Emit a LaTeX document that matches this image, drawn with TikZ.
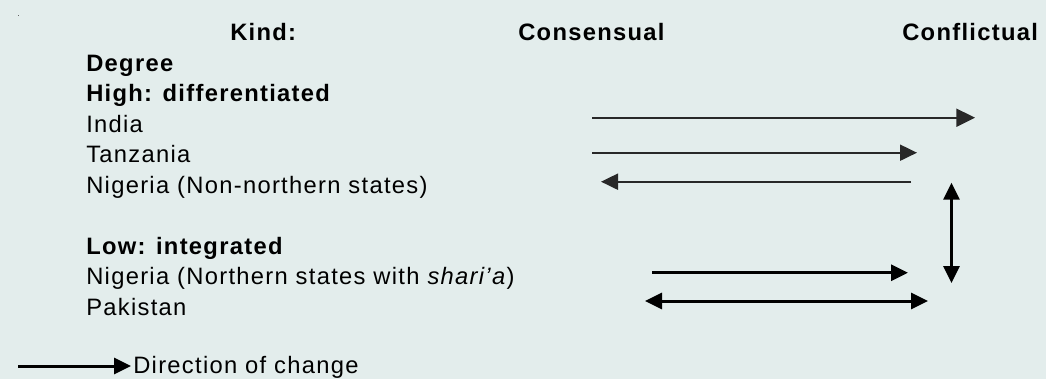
\documentclass[tikz,border=0pt]{standalone}
\usepackage{fontspec}
\setmainfont{Liberation Sans}[LetterSpace=5.5]
\usetikzlibrary{arrows.meta}
\definecolor{bgpanel}{RGB}{227,237,236}
\definecolor{thinline}{RGB}{40,40,40}
\tikzset{
  tip/.tip={Triangle[length=12.75pt,width=12pt]},
  bigtip/.tip={Triangle[length=14pt,width=13.5pt]},
  txt/.style={anchor=base west, inner sep=0pt, font=\fontsize{17.8pt}{21pt}\selectfont},
  boldtxt/.style={txt, font=\fontsize{17.8pt}{21pt}\selectfont\bfseries},
  thinarrow/.style={draw=thinline, line width=1.5pt},
  thickarrow/.style={draw=black, line width=2.25pt},
}
\begin{document}
\begin{tikzpicture}[x=0.75pt,y=-0.75pt]
  % panel
  \fill[bgpanel] (0,0) rectangle (1046,379);
  \useasboundingbox (0,0) rectangle (1046,379);
  \fill[black!60] (18,15) rectangle (19,16);

  % column headers
  \node[boldtxt] (kind) at (230,40) {Kind:};
  \node[boldtxt] (cons) at (518,40) {Consensual};
  \node[boldtxt] (conf) at (902,40) {Conflictual};

  % row labels
  \node[boldtxt] (degree) at (86,71) {Degree};
  \node[boldtxt] (high)   at (86,101.5) {High: differentiated};
  \node[txt] (india)  at (86,132) {India};
  \node[txt] (tanz)   at (86,162.5) {Tanzania};
  \node[txt] (nignn)  at (86,193) {Nigeria (Non-northern states)};
  \node[boldtxt] (low) at (86,254) {Low: integrated};
  \node[txt] (nign)   at (86,284.5) {Nigeria (Northern states with \textit{shari’a})};
  \node[txt] (pak)    at (86,315) {Pakistan};
  \node[txt] (legtxt) at (133,373) {Direction of change};

  % arrow end points
  \coordinate (indiaA) at (592,117.7);
  \coordinate (indiaB) at (975,117.7);
  \coordinate (tanzA)  at (592,152.7);
  \coordinate (tanzB)  at (917,152.7);
  \coordinate (nignnA) at (911,181.7);
  \coordinate (nignnB) at (601,181.7);
  \coordinate (vertA)  at (951.5,182.7);
  \coordinate (vertB)  at (951.5,283);
  \coordinate (nignA)  at (652,272.7);
  \coordinate (nignB)  at (908,272.7);
  \coordinate (pakA)   at (645,301);
  \coordinate (pakB)   at (928,301);
  \coordinate (legA)   at (18,366);
  \coordinate (legB)   at (131,366);

  % change arrows
  \draw[thinarrow,-bigtip] (indiaA) -- (indiaB);
  \draw[thinarrow,-tip] (tanzA) -- (tanzB);
  \draw[thinarrow,-tip] (nignnA) -- (nignnB);
  \draw[thickarrow,tip-tip] (vertA) -- (vertB);
  \draw[thickarrow,-tip] (nignA) -- (nignB);
  \draw[thickarrow,tip-tip] (pakA) -- (pakB);
  \draw[thickarrow,-tip] (legA) -- (legB);
\end{tikzpicture}
\end{document}
